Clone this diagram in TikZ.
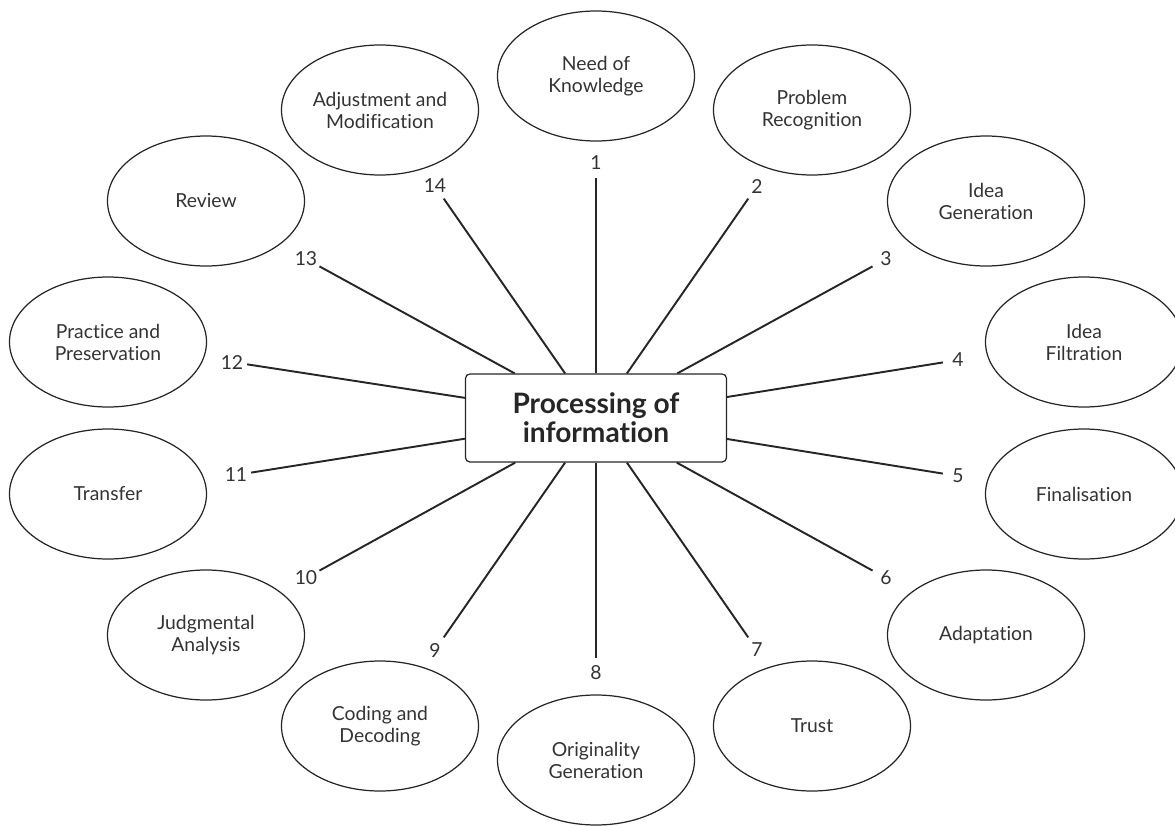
\documentclass[tikz,border=0pt]{standalone}
\usepackage{fontspec}
\setmainfont{Lato}[Ligatures=NoCommon]
\usetikzlibrary{shapes.geometric}

\begin{document}
\begin{tikzpicture}[
  stage/.style={draw=black!85,line width=0.7pt,ellipse,inner sep=0pt,minimum width=3.94cm,minimum height=2.6cm,align=center,font=\fontsize{11}{12.5}\selectfont,text=black!80},
  num/.style={circle,inner sep=0pt,minimum size=0.6cm,font=\fontsize{11}{12.5}\selectfont,text=black!80},
  hub/.style={draw=black!85,line width=0.7pt,rounded corners=2.5pt,minimum width=5.22cm,minimum height=1.76cm,align=center,font=\fontsize{16}{16.5}\selectfont\bfseries,text=black!85},
  link/.style={line width=1.1pt,black!85}
]
\useasboundingbox (-11.92,-8.14) rectangle (11.58,8.36);

% centre
\node[hub] (hub) at (0,0) {Processing of\\information};

% stages
\node[stage] (need) at (0,6.84) {Need of\\Knowledge};
\node[stage] (problem) at (4.32,6.16) {Problem\\Recognition};
\node[stage] (ideagen) at (7.8,4.34) {Idea\\Generation};
\node[stage] (ideafilt) at (9.76,1.52) {Idea\\Filtration};
\node[stage] (final) at (9.76,-1.52) {Finalisation};
\node[stage] (adapt) at (7.8,-4.34) {Adaptation};
\node[stage] (trust) at (4.32,-6.16) {Trust};
\node[stage] (orig) at (0,-6.84) {Originality\\Generation};
\node[stage] (coding) at (-4.32,-6.16) {Coding and\\Decoding};
\node[stage] (judge) at (-7.8,-4.34) {Judgmental\\Analysis};
\node[stage] (transfer) at (-9.76,-1.52) {Transfer};
\node[stage] (practice) at (-9.76,1.52) {Practice and\\Preservation};
\node[stage] (review) at (-7.8,4.34) {Review};
\node[stage] (adjust) at (-4.32,6.16) {Adjustment and\\Modification};

% numbers
\node[num] (n1) at (0,5.1) {1};
\node[num] (n2) at (3.22,4.64) {2};
\node[num] (n3) at (5.8,3.18) {3};
\node[num] (n4) at (7.24,1.16) {4};
\node[num] (n5) at (7.24,-1.16) {5};
\node[num] (n6) at (5.8,-3.2) {6};
\node[num] (n7) at (3.22,-4.64) {7};
\node[num] (n8) at (0,-5.1) {8};
\node[num] (n9) at (-3.22,-4.64) {9};
\node[num] (n10) at (-5.8,-3.2) {10};
\node[num] (n11) at (-7.2,-1.14) {11};
\node[num] (n12) at (-7.28,1.12) {12};
\node[num] (n13) at (-5.8,3.18) {13};
\node[num] (n14) at (-3.22,4.64) {14};

% spokes
\draw[link] (n1) -- (hub);
\draw[link] (n2) -- (hub);
\draw[link] (n3) -- (hub);
\draw[link] (n4) -- (hub);
\draw[link] (n5) -- (hub);
\draw[link] (n6) -- (hub);
\draw[link] (n7) -- (hub);
\draw[link] (n8) -- (hub);
\draw[link] (n9) -- (hub);
\draw[link] (n10) -- (hub);
\draw[link] (n11) -- (hub);
\draw[link] (n12) -- (hub);
\draw[link] (n13) -- (hub);
\draw[link] (n14) -- (hub);
\end{tikzpicture}
\end{document}
